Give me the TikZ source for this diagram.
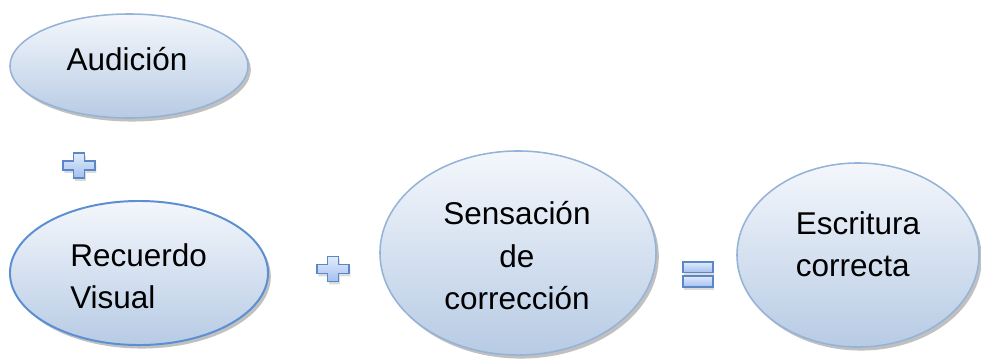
\documentclass[tikz,border=0pt]{standalone}
\usepackage{fontspec}
\setmainfont{Liberation Sans}
\usetikzlibrary{shapes.geometric,shadows}

\definecolor{bubbleline}{HTML}{95B3D7}
\definecolor{bubbledark}{HTML}{5B8FD3}
\definecolor{bubbletop}{HTML}{F4F7FC}
\definecolor{bubblebottom}{HTML}{B7CBE4}
\definecolor{signline}{HTML}{5A88C6}
\definecolor{signtop}{HTML}{E2EBFB}
\definecolor{signbottom}{HTML}{A3C0F0}

\newcommand\bubblefont{\fontsize{22.4}{30.2}\selectfont}
\newcommand\signplus[1]{
  \draw[signstyle, shift={(#1)}] (-5.5,-12.5) -- (5.5,-12.5) -- (5.5,-4.5) -- (16,-4.5)
    -- (16,4.5) -- (5.5,4.5) -- (5.5,12.5) -- (-5.5,12.5) -- (-5.5,4.5) -- (-16,4.5)
    -- (-16,-4.5) -- (-5.5,-4.5) -- cycle ;
}
\newcommand\signequal[1]{
  \draw[signstyle, shift={(#1)}] (-15,-12.5) rectangle (15,-2) ;
  \draw[signstyle, shift={(#1)}] (-15,1.5) rectangle (15,12.5) ;
}

\tikzset{
  bubble/.style={ellipse, draw=bubbleline, line width=1.1pt, top color=bubbletop,
    bottom color=bubblebottom, inner sep=0pt,
    drop shadow={shadow xshift=2pt, shadow yshift=-2.5pt, fill=black!55, opacity=.45}},
  bubbletext/.style={font=\bubblefont, text=black, inner sep=0pt},
  signstyle/.style={draw=signline, line width=1.3pt, line join=miter, top color=signtop,
    bottom color=signbottom,
    drop shadow={shadow xshift=1pt, shadow yshift=-2pt, fill=black!40, opacity=.35}}
}

\begin{document}
\begin{tikzpicture}[x=0.025cm, y=-0.025cm]
  \useasboundingbox (0,0) rectangle (981,358) ;

  % bubbles
  \node[bubble, minimum width=5.95cm, minimum height=2.6cm] (audicion) at (129,66) {} ;
  \node[bubble, draw=bubbledark, line width=1.4pt, minimum width=6.45cm, minimum height=3.6cm] (recuerdo) at (139,273) {} ;
  \node[bubble, minimum width=6.9cm, minimum height=5.1cm] (sensacion) at (518,253) {} ;
  \node[bubble, minimum width=6.05cm, minimum height=4.6cm] (escritura) at (858,255) {} ;

  % texts
  \node[bubbletext] (audicion-t) at (127,59) {Audición} ;
  \node[bubbletext, align=left, anchor=west] (recuerdo-t) at (70,276) {Recuerdo\\Visual} ;
  \node[bubbletext, align=center] (sensacion-t) at (517,256) {Sensación\\de\\corrección} ;
  \node[bubbletext, align=left] (escritura-t) at (858,244) {Escritura\\correcta} ;

  % signs
  \coordinate (plus-a) at (79,165.5) ;
  \coordinate (plus-b) at (333,269) ;
  \coordinate (equal-a) at (698,274.5) ;
  \signplus{plus-a}
  \signplus{plus-b}
  \signequal{equal-a}
\end{tikzpicture}
\end{document}
